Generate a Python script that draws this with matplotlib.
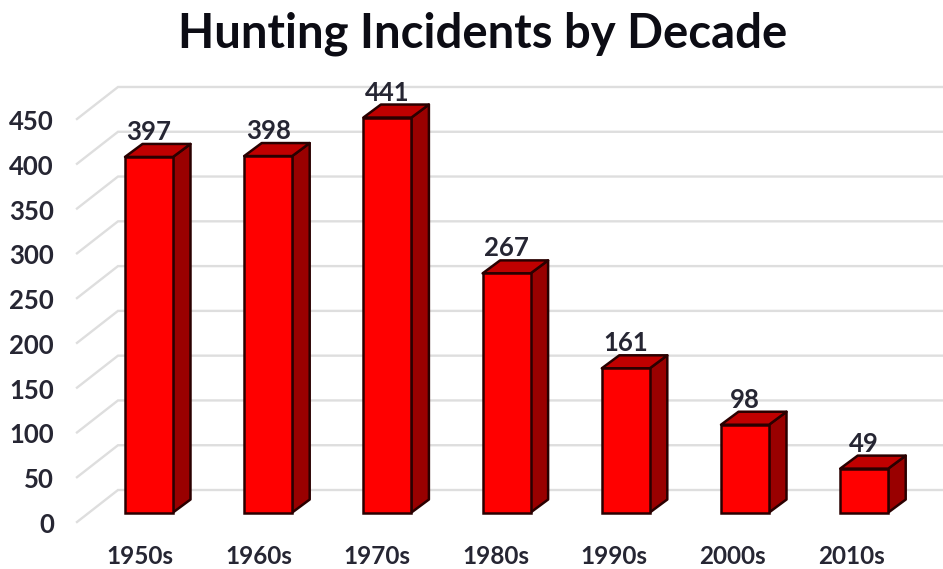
import matplotlib
matplotlib.use("Agg")
import matplotlib.pyplot as plt
from matplotlib.patches import Polygon, Rectangle

categories = ["1950s", "1960s", "1970s", "1980s", "1990s", "2000s", "2010s"]
values = [397, 398, 441, 267, 161, 98, 49]
y_ticks = [0, 50, 100, 150, 200, 250, 300, 350, 400, 450]

W, H = 943, 569
X0, STEP = 149.0, 119.2      # px of first bar centre, px per category
Y0, PPU = 512.5, 0.8956      # px of value 0 at the bar front, px per unit
BAR_W = 48 / STEP
DX, DY = 17.5 / STEP, 13 / PPU

plt.rcParams["font.family"] = ["Lato", "DejaVu Sans"]
fig = plt.figure(figsize=(W / 100, H / 100), dpi=100)
ax = fig.add_axes([0, 0, 1, 1])
ax.set_xlim(-X0 / STEP, (W - X0) / STEP)
ax.set_ylim((Y0 - H) / PPU, Y0 / PPU)
ax.axis("off")

# gridlines: diagonal side wall plus back wall
gx_front, gx_back = (77 - X0) / STEP, (118 - X0) / STEP
gy_front, gy_back = (Y0 - 522) / PPU, (Y0 - 490) / PPU
for v in y_ticks:
    ax.plot([gx_front, gx_back, ax.get_xlim()[1]],
            [v + gy_front, v + gy_back, v + gy_back],
            color="#dedede", lw=1.7, zorder=1, solid_joinstyle="miter")
    ax.text((54 - X0) / STEP, v + gy_front - 3 / PPU, str(v), ha="right", va="center",
            fontsize=18.5, fontweight="bold", color="#262633")

EDGE = "#2a0000"
for i, (c, v) in enumerate(zip(categories, values)):
    l, r = i - BAR_W / 2, i + BAR_W / 2
    ax.add_patch(Polygon([(r, 0), (r + DX, DY), (r + DX, v + DY), (r, v)],
                         fc="#990000", ec=EDGE, lw=1.8, zorder=3, joinstyle="round"))
    ax.add_patch(Polygon([(l, v), (l + DX, v + DY), (r + DX, v + DY), (r, v)],
                         fc="#c00000", ec=EDGE, lw=1.8, zorder=3, joinstyle="round"))
    ax.add_patch(Rectangle((l, 0), r - l, v, fc="#ff0000", ec=EDGE, lw=1.8, zorder=4))
    ax.text(i, v + 25 / PPU, str(v), ha="center", va="center",
            fontsize=18.5, fontweight="bold", color="#262633", zorder=5)
    ax.text(i - (9 + i * 4 / 6) / STEP, (Y0 - 556) / PPU, c,
            ha="center", va="center", fontsize=17.5, fontweight="bold", color="#262633")

ax.text((483 - X0) / STEP, (Y0 - 34) / PPU, "Hunting Incidents by Decade",
        ha="center", va="center", fontsize=34, fontweight="bold", color="#0c0c14")

fig.savefig("out.png", dpi=100)
